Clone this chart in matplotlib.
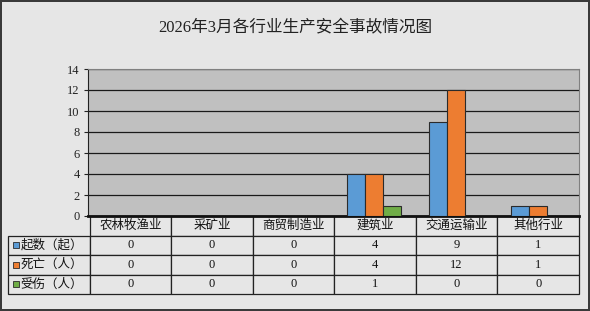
import numpy as np
import matplotlib
matplotlib.use("Agg")
from matplotlib import pyplot as plt
from matplotlib.patches import Rectangle

# chart data
title = "2026年3月各行业生产安全事故情况图"
categories = ["农林牧渔业", "采矿业", "商贸制造业", "建筑业", "交通运输业", "其他行业"]
series_names = ["起数（起）", "死亡（人）", "受伤（人）"]
accidents = [0, 0, 0, 4, 9, 1]
deaths = [0, 0, 0, 4, 12, 1]
injuries = [0, 0, 0, 1, 0, 0]
yticks = [0, 2, 4, 6, 8, 10, 12, 14]

colors = ["#5b9bd5", "#ed7d31", "#70ad47"]
fonts = ["Liberation Serif", "Noto Sans CJK SC"]

W, H = 590, 311
# plot area in pixels
px0, px1, py0, py1 = 88, 579, 69, 216
tbl_left, tbl_bottom = 8, 294


def to_ax(px, py):
    return (px - px0) / (px1 - px0), (py1 - py) / (py1 - py0)


def main():
    fig = plt.figure(figsize=(W / 100, H / 100), dpi=100)
    fig.patch.set_facecolor("#e6e6e6")
    fig.patch.set_edgecolor("#3a3a3a")
    fig.patch.set_linewidth(1.5)

    ax = fig.add_axes([px0 / W, 1 - py1 / H, (px1 - px0) / W, (py1 - py0) / H])
    ax.set_facecolor("#c0c0c0")

    series = [accidents, deaths, injuries]
    x = np.arange(len(categories))
    bw = 0.22
    for i, vals in enumerate(series):
        ax.bar(x + (i - 1) * bw, vals, bw, color=colors[i], edgecolor="#2b2b2b",
               linewidth=0.8, zorder=3)

    ax.set_xlim(-0.5, len(categories) - 0.5)
    ax.set_ylim(0, 14)
    ax.set_xticks([])
    ax.set_yticks(yticks)
    ax.set_yticklabels([str(v) for v in yticks], family=fonts, fontsize=9, color="#222222")
    ax.tick_params(axis="y", length=3, width=0.8, pad=3, color="#222222")
    ax.yaxis.grid(True, color="#1a1a1a", linewidth=0.9)
    ax.set_axisbelow(True)
    ax.spines["top"].set_color("#808080")
    ax.spines["right"].set_color("#808080")
    ax.spines["left"].set_color("#222222")
    ax.spines["bottom"].set_color("#111111")
    ax.spines["bottom"].set_linewidth(2)

    # data table under the plot
    cell_text = [[name] + [str(v) for v in vals] for name, vals in zip(series_names, series)]
    bl, bb = to_ax(tbl_left, tbl_bottom)
    tbl = ax.table(cellText=cell_text, colLabels=[""] + categories, cellLoc="center",
                   bbox=[bl, bb, 1 - bl, -bb])
    tbl.auto_set_font_size(False)
    for (r, c), cell in tbl.get_celld().items():
        cell.set_facecolor("#e6e6e6")
        cell.set_edgecolor("#222222")
        cell.set_linewidth(0.9)
        cell.get_text().set_fontfamily(fonts)
        cell.get_text().set_fontsize(9)
        cell.get_text().set_color("#111111")
        if r == 0 and c == 0:
            cell.visible_edges = ""
            cell.set_facecolor("none")
        if r > 0 and c == 0:
            cell.get_text().set_ha("left")
            cell.PAD = 0.15

    # legend keys in the row labels
    n_rows = len(series) + 1
    row_h = (tbl_bottom - py1) / n_rows
    for i in range(len(series)):
        cy = py1 + row_h * (i + 1.5)
        sx, sy = to_ax(13, cy + 3)
        sw = 6 / (px1 - px0)
        sh = 6 / (py1 - py0)
        ax.add_patch(Rectangle((sx, sy), sw, sh, transform=ax.transAxes, clip_on=False,
                               facecolor=colors[i], edgecolor="#2b2b2b", linewidth=0.6, zorder=5))

    fig.text(0.5, 1 - 28 / H, title, ha="center", va="center", fontsize=12,
             family=fonts, color="#222222")

    plt.savefig("out.png", dpi=100, facecolor=fig.get_facecolor(), edgecolor=fig.get_edgecolor())


if __name__ == "__main__":
    main()
